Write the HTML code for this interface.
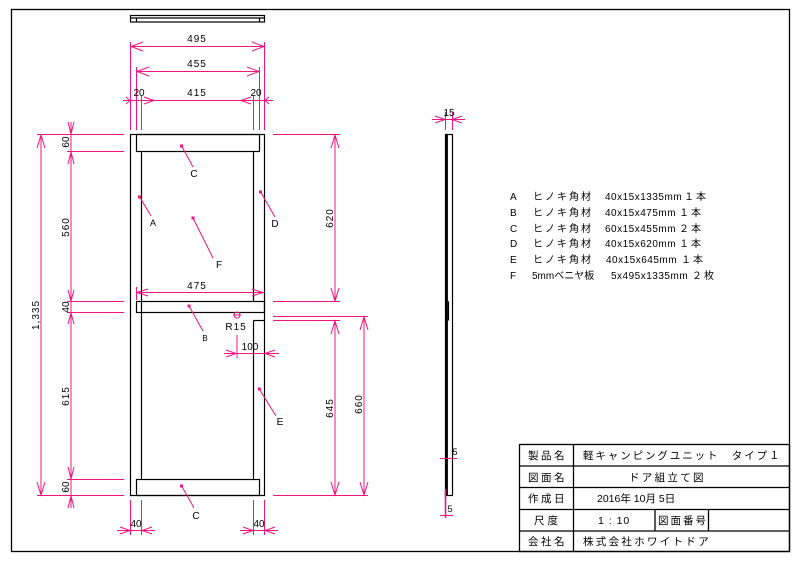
<!DOCTYPE html>
<html><head><meta charset="utf-8"><style>
html,body{margin:0;padding:0;background:#fff;width:800px;height:565px;overflow:hidden}
svg text{font-family:"Liberation Sans","Noto Sans CJK JP",sans-serif}
</style></head><body>
<svg width="800" height="565" viewBox="0 0 800 565" xmlns="http://www.w3.org/2000/svg">
<rect x="11.5" y="9.5" width="778" height="542" fill="none" stroke="#000" stroke-width="1.3"/>
<g fill="none" stroke="#000" stroke-width="1.2">
<rect x="130.5" y="15.5" width="134" height="6.5"/>
<line x1="130.5" y1="18" x2="264.5" y2="18"/>
<line x1="136.5" y1="18" x2="136.5" y2="22"/><line x1="259.5" y1="18" x2="259.5" y2="22"/>
<rect x="130.5" y="134.5" width="134" height="361"/>
<rect x="136.5" y="134.5" width="123" height="17"/>
<rect x="136.5" y="479.5" width="123" height="16"/>
<rect x="136.5" y="301.5" width="128" height="11"/>
<line x1="141.5" y1="151.5" x2="141.5" y2="479.5"/>
<line x1="253.5" y1="151.5" x2="253.5" y2="301.5"/>
<line x1="253.5" y1="320.5" x2="253.5" y2="479.5"/>
<line x1="253.5" y1="320.5" x2="264.5" y2="320.5"/>
<rect x="445.5" y="134.5" width="7" height="361"/>
<line x1="446.8" y1="134.5" x2="446.8" y2="495.5" stroke-width="2.2"/>
<line x1="445.5" y1="301.5" x2="448.5" y2="301.5"/><line x1="445.5" y1="312.5" x2="448.5" y2="312.5"/>
<line x1="448.5" y1="301.5" x2="448.5" y2="320.5"/>
</g>
<g fill="none" stroke="#f0147f" stroke-width="1">
<line x1="130.5" y1="42" x2="130.5" y2="130"/><line x1="264.5" y1="42" x2="264.5" y2="130"/>
<line x1="136.5" y1="67" x2="136.5" y2="130"/><line x1="259.5" y1="67" x2="259.5" y2="130"/>
<line x1="141.5" y1="96" x2="141.5" y2="130"/><line x1="253.5" y1="96" x2="253.5" y2="130"/>
<line x1="130.5" y1="46.5" x2="264.5" y2="46.5"/>
<polyline points="143,42 131,46.5 143,51"/><polyline points="252,42 264,46.5 252,51"/>
<line x1="136.5" y1="71.5" x2="259.5" y2="71.5"/>
<polyline points="149,67 137,71.5 149,76"/><polyline points="247,67 259,71.5 247,76"/>
<line x1="123" y1="100.5" x2="273" y2="100.5"/>
<polyline points="144,97 154,100.5 144,104"/><polyline points="251,97 241,100.5 251,104"/>
<polyline points="126,97 130,100.5 126,104"/><polyline points="269,97 265,100.5 269,104"/>
<line x1="37" y1="134.5" x2="124" y2="134.5"/><line x1="37" y1="495.5" x2="124" y2="495.5"/>
<line x1="67" y1="151.5" x2="124" y2="151.5"/><line x1="67" y1="301.5" x2="124" y2="301.5"/>
<line x1="67" y1="312.5" x2="124" y2="312.5"/><line x1="67" y1="479.5" x2="124" y2="479.5"/>
<line x1="41" y1="134.5" x2="41" y2="495.5"/>
<polyline points="37,148 41,135 45,148"/><polyline points="37,482 41,495 45,482"/>
<line x1="71" y1="122" x2="71" y2="508"/>
<polyline points="68,122 71,134 74,122"/><polyline points="68,164 71,152 74,164"/>
<polyline points="68,290 71,301 74,290"/><polyline points="68,324 71,313 74,324"/>
<polyline points="68,467 71,479 74,467"/><polyline points="68,508 71,496 74,508"/>
<line x1="273" y1="134.5" x2="340" y2="134.5"/><line x1="273" y1="301.5" x2="340" y2="301.5"/>
<line x1="273" y1="316.5" x2="368" y2="316.5"/><line x1="273" y1="320.5" x2="340" y2="320.5"/>
<line x1="273" y1="495.5" x2="368" y2="495.5"/>
<line x1="335" y1="134.5" x2="335" y2="301.5"/>
<polyline points="331,148 335,135 339,148"/><polyline points="331,288 335,301 339,288"/>
<line x1="335" y1="320.5" x2="335" y2="495.5"/>
<polyline points="331,334 335,321 339,334"/><polyline points="331,482 335,495 339,482"/>
<line x1="364" y1="316.5" x2="364" y2="495.5"/>
<polyline points="360,330 364,317 368,330"/><polyline points="360,482 364,495 368,482"/>
<line x1="136.5" y1="292.5" x2="264.5" y2="292.5"/>
<polyline points="148,289 137,292.5 148,296"/><polyline points="252,289 263,292.5 252,296"/>
<line x1="136.5" y1="287" x2="136.5" y2="300"/>
<line x1="237" y1="335" x2="237" y2="358"/>
<line x1="224" y1="353.5" x2="279" y2="353.5"/>
<polyline points="226,350 236,353.5 226,357"/><polyline points="275,350 265,353.5 275,357"/>
<circle cx="237" cy="315" r="3"/><line x1="233" y1="315" x2="241" y2="315"/>
<line x1="130.5" y1="500" x2="130.5" y2="535"/><line x1="141.5" y1="500" x2="141.5" y2="535"/>
<line x1="253.5" y1="500" x2="253.5" y2="535"/><line x1="264.5" y1="500" x2="264.5" y2="535"/>
<line x1="117" y1="530.5" x2="155" y2="530.5"/><line x1="240" y1="530.5" x2="278" y2="530.5"/>
<polyline points="120,527 130,530.5 120,534"/><polyline points="152,527 142,530.5 152,534"/>
<polyline points="243,527 253,530.5 243,534"/><polyline points="275,527 265,530.5 275,534"/>
<line x1="445.5" y1="112" x2="445.5" y2="130"/><line x1="452.5" y1="112" x2="452.5" y2="130"/>
<line x1="432" y1="119.5" x2="465" y2="119.5"/>
<polyline points="435,116 445,119.5 435,123"/><polyline points="462,116 452,119.5 462,123"/>
<line x1="440" y1="458.5" x2="457" y2="458.5"/>
<line x1="445.5" y1="489" x2="445.5" y2="518" stroke-width="1.6"/>
<line x1="440" y1="515.5" x2="453" y2="515.5"/>
<line x1="181.7" y1="146" x2="193" y2="167"/><line x1="139.7" y1="197" x2="151" y2="216"/>
<line x1="193" y1="218" x2="213" y2="258"/><line x1="260.7" y1="192" x2="275" y2="217"/>
<line x1="189" y1="306" x2="203" y2="331"/><line x1="259.3" y1="389" x2="276" y2="416"/>
<line x1="181.7" y1="486" x2="194" y2="508"/>
</g>
<g fill="#f0147f">
<rect x="180" y="144.5" width="3" height="3"/><rect x="138" y="195.5" width="3" height="3"/>
<rect x="191.5" y="216.5" width="3" height="3"/><rect x="259" y="190.5" width="3" height="3"/>
<rect x="187.5" y="304.5" width="3" height="3"/><rect x="257.8" y="387.5" width="3" height="3"/>
<rect x="180" y="484.5" width="3" height="3"/>
</g>
<g font-size="10" fill="#000" text-anchor="middle">
<text x="197" y="42" letter-spacing="1">495</text>
<text x="197" y="67" letter-spacing="1">455</text>
<text x="197" y="96" letter-spacing="1">415</text>
<text x="139" y="96">20</text><text x="256" y="96">20</text>
<text x="197" y="289" letter-spacing="1">475</text>
<text x="236" y="330" letter-spacing="1">R15</text>
<text x="250" y="350">100</text>
<text x="136" y="527">40</text><text x="259" y="527">40</text>
<text x="449" y="116">15</text>
<text x="455" y="455" font-size="9">5</text>
<text x="450" y="512" font-size="9">5</text>
<text x="194" y="177">C</text><text x="153" y="226" font-size="9">A</text>
<text x="219" y="268">F</text><text x="275" y="227">D</text>
<text x="205" y="341" font-size="8">B</text><text x="280" y="425">E</text>
<text x="196" y="519">C</text>
<text transform="translate(69,142) rotate(-90)">60</text>
<text transform="translate(69,227) rotate(-90)" letter-spacing="1">560</text>
<text transform="translate(69,307) rotate(-90)">40</text>
<text transform="translate(69,396) rotate(-90)" letter-spacing="1">615</text>
<text transform="translate(69,487) rotate(-90)">60</text>
<text transform="translate(39,315) rotate(-90)" letter-spacing="1">1,335</text>
<text transform="translate(333,218) rotate(-90)" letter-spacing="1">620</text>
<text transform="translate(333,408) rotate(-90)" letter-spacing="1">645</text>
<text transform="translate(362,404) rotate(-90)" letter-spacing="1">660</text>
</g>
<g font-size="10" fill="#000">
<text x="510" y="200">A</text><text x="533" y="200" letter-spacing="2">ヒノキ角材</text><text x="605" y="200" letter-spacing="0.5">40x15x1335mm</text><text x="684" y="200" letter-spacing="2">１本</text>
<text x="510" y="216">B</text><text x="533" y="216" letter-spacing="2">ヒノキ角材</text><text x="605" y="216" letter-spacing="0.5">40x15x475mm</text><text x="679" y="216" letter-spacing="2">１本</text>
<text x="510" y="232">C</text><text x="533" y="232" letter-spacing="2">ヒノキ角材</text><text x="605" y="232" letter-spacing="0.5">60x15x455mm</text><text x="679" y="232" letter-spacing="2">２本</text>
<text x="510" y="247">D</text><text x="533" y="247" letter-spacing="2">ヒノキ角材</text><text x="605" y="247" letter-spacing="0.5">40x15x620mm</text><text x="679" y="247" letter-spacing="2">１本</text>
<text x="510" y="263">E</text><text x="533" y="263" letter-spacing="2">ヒノキ角材</text><text x="606" y="263" letter-spacing="0.5">40x15x645mm</text><text x="681" y="263" letter-spacing="2">１本</text>
<text x="510" y="279">F</text><text x="532" y="279">5mmベニヤ板</text><text x="611" y="279" letter-spacing="0.5">5x495x1335mm</text><text x="692" y="279" letter-spacing="2">２枚</text>
</g>
<g fill="none" stroke="#000" stroke-width="1.3">
<rect x="519.5" y="444.5" width="270" height="107"/>
<line x1="519.5" y1="466" x2="789.5" y2="466"/><line x1="519.5" y1="487.5" x2="789.5" y2="487.5"/>
<line x1="519.5" y1="509.5" x2="789.5" y2="509.5"/><line x1="519.5" y1="531" x2="789.5" y2="531"/>
<line x1="573.5" y1="444.5" x2="573.5" y2="551.5"/>
<line x1="655" y1="509.5" x2="655" y2="531"/><line x1="708.5" y1="509.5" x2="708.5" y2="531"/>
</g>
<g font-size="10.5" fill="#000">
<text x="528" y="459" letter-spacing="2.5">製品名</text>
<text x="583" y="459" letter-spacing="1.9">軽キャンピングユニット　タイプ１</text>
<text x="528" y="481" letter-spacing="2.5">図面名</text>
<text x="629" y="481" letter-spacing="2.3">ドア組立て図</text>
<text x="528" y="502" letter-spacing="2.5">作成日</text>
<text x="597" y="502">2016年  10月    5日</text>
<text x="534" y="524" letter-spacing="3">尺度</text>
<text x="598" y="524" letter-spacing="1">1 : 10</text>
<text x="658" y="524" letter-spacing="2">図面番号</text>
<text x="528" y="545" letter-spacing="2.5">会社名</text>
<text x="583" y="545" letter-spacing="2.3">株式会社ホワイトドア</text>
</g>
</svg>
</body></html>
